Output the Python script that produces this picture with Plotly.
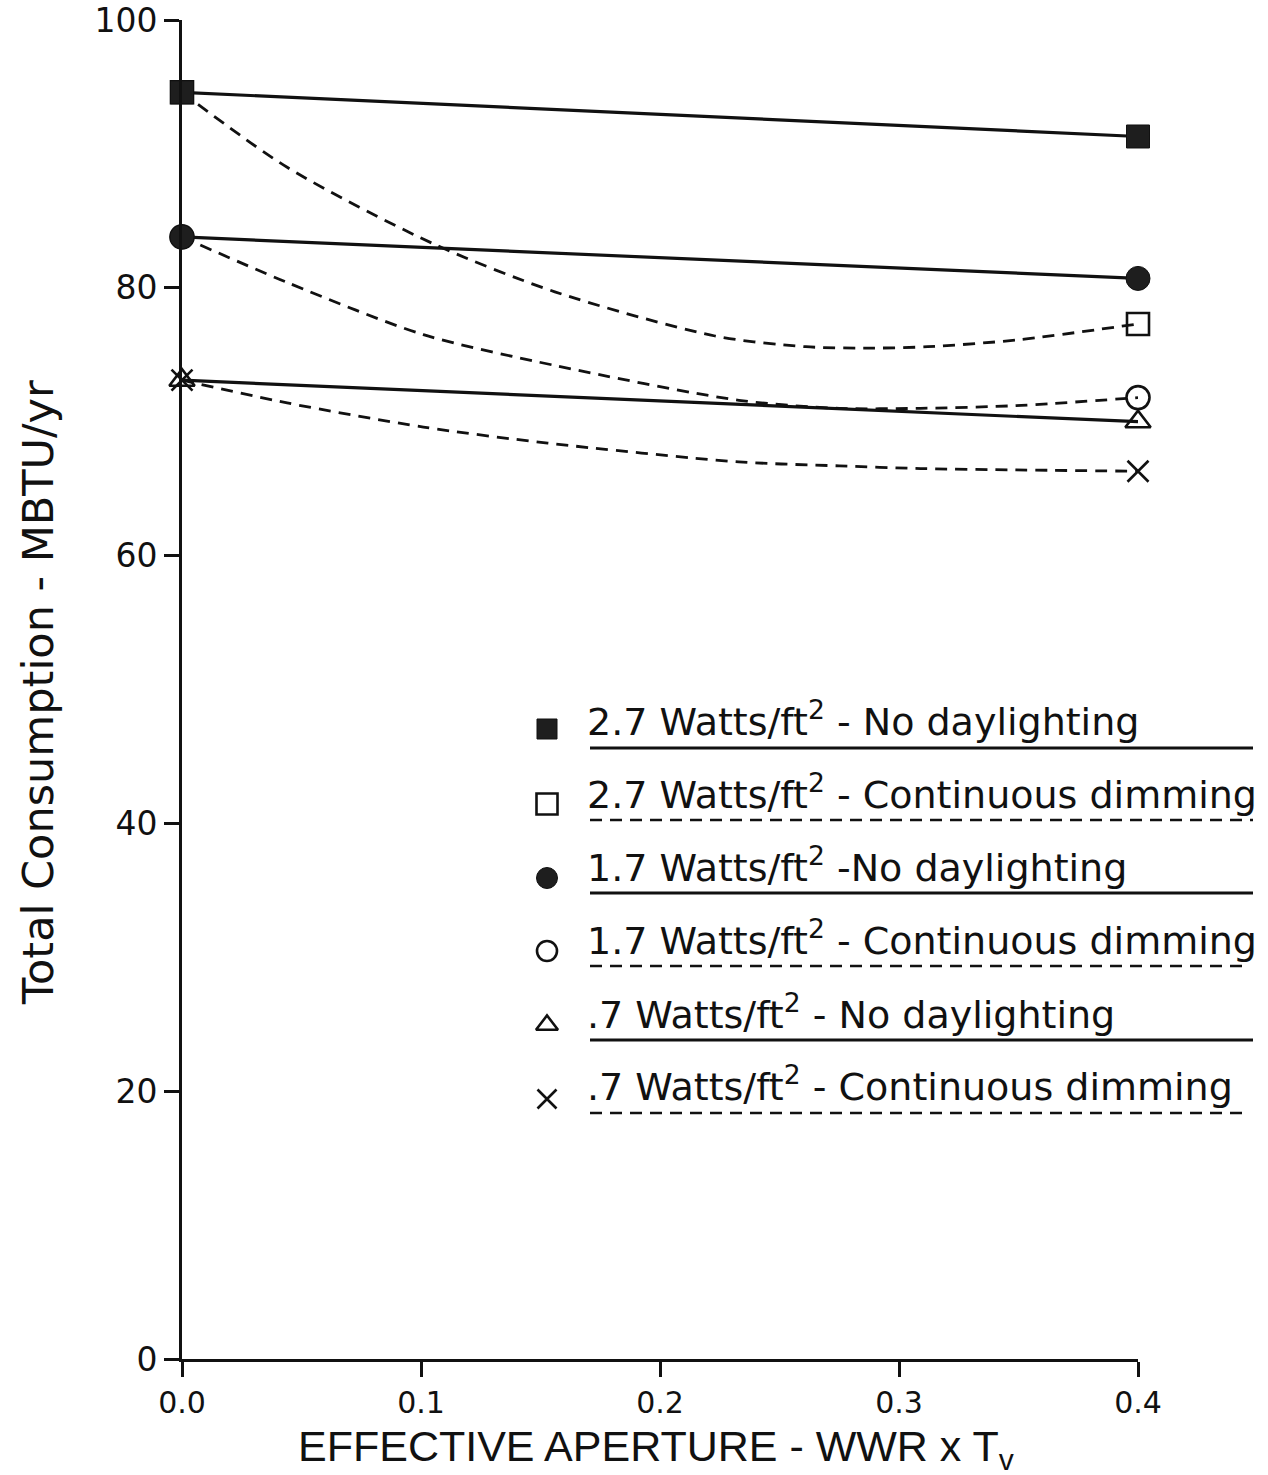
import plotly.graph_objects as go

# ---- data (MBTU/yr vs effective aperture WWR x Tv) ----
x_ends = [0.0, 0.4]

nd_27 = [94.6, 91.3]   # 2.7 W/ft2, no daylighting
nd_17 = [83.8, 80.7]   # 1.7 W/ft2, no daylighting
nd_07 = [73.1, 70.0]   # .7 W/ft2, no daylighting

# continuous dimming curves (sampled along the smooth curve)
cd_27_x = [0.0, 0.044, 0.105, 0.156, 0.223, 0.261, 0.289, 0.312, 0.349, 0.4]
cd_27_y = [94.6, 89.0, 83.3, 79.7, 76.4, 75.6, 75.5, 75.6, 76.1, 77.3]
cd_17_x = [0.0, 0.044, 0.101, 0.156, 0.233, 0.275, 0.309, 0.349, 0.4]
cd_17_y = [83.8, 80.4, 76.5, 74.2, 71.6, 71.0, 71.0, 71.2, 71.8]
cd_07_x = [0.0, 0.044, 0.101, 0.153, 0.233, 0.275, 0.309, 0.349, 0.4]
cd_07_y = [73.1, 71.4, 69.6, 68.4, 67.0, 66.7, 66.5, 66.4, 66.3]

x_ticks = [0.0, 0.1, 0.2, 0.3, 0.4]
y_ticks = [0, 20, 40, 60, 80, 100]

legend_labels = [
    "2.7 Watts/ft<sup>2</sup> - No daylighting",
    "2.7 Watts/ft<sup>2</sup> - Continuous dimming",
    "1.7 Watts/ft<sup>2</sup> -No daylighting",
    "1.7 Watts/ft<sup>2</sup> - Continuous dimming",
    ".7 Watts/ft<sup>2</sup> - No daylighting",
    ".7 Watts/ft<sup>2</sup> - Continuous dimming",
]

# ---- styling ----
INK = "#111111"
FILL = "#1e1e1e"
DASH = "12px,8px"
X_RANGE = [0.0, 0.4]
Y_RANGE = [0, 100]

# plot-area edges in page pixels
W, H = 1268, 1475
L, R, T, B = 182, 1138, 20, 1359


def paper_x(px):
    return (px - L) / (R - L)


def paper_y(py):
    return (B - py) / (B - T)


def data_x(px):
    return X_RANGE[0] + (px - L) / (R - L) * (X_RANGE[1] - X_RANGE[0])


def data_y(py):
    return Y_RANGE[0] + (B - py) / (B - T) * (Y_RANGE[1] - Y_RANGE[0])


fig = go.Figure()

# symbol styles: (symbol, size, filled)
sym_nd27 = ("square", 23, True)
sym_cd27 = ("square-open", 22, False)
sym_nd17 = ("circle", 24, True)
sym_cd17 = ("circle-open", 23, False)
sym_nd07 = ("triangle-up-open", 22, False)
sym_cd07 = ("x-thin", 21, False)


def marker_style(sym):
    symbol, size, filled = sym
    return dict(
        symbol=symbol,
        size=size,
        color=FILL if filled else INK,
        line=dict(color=INK, width=1 if filled else 2.6),
    )


# dashed dimming curves + their end markers
for xs, ys, sym in [
    (cd_27_x, cd_27_y, sym_cd27),
    (cd_17_x, cd_17_y, sym_cd17),
    (cd_07_x, cd_07_y, sym_cd07),
]:
    fig.add_trace(go.Scatter(
        x=xs, y=ys, mode="lines",
        line=dict(color=INK, width=2.8, dash=DASH, shape="spline", smoothing=0.8),
        cliponaxis=False, hoverinfo="skip",
    ))
    fig.add_trace(go.Scatter(
        x=[xs[0], xs[-1]], y=[ys[0], ys[-1]], mode="markers",
        marker=marker_style(sym), cliponaxis=False,
    ))

# solid no-daylighting lines
for ys, sym in [(nd_27, sym_nd27), (nd_17, sym_nd17), (nd_07, sym_nd07)]:
    fig.add_trace(go.Scatter(
        x=x_ends, y=ys, mode="lines+markers",
        line=dict(color=INK, width=3.2),
        marker=marker_style(sym), cliponaxis=False,
    ))

# ---- custom legend: symbol, label, and a line sample under the label ----
leg_syms = [
    ("square", 20, True),
    ("square-open", 21, False),
    ("circle", 21, True),
    ("circle-open", 20, False),
    ("triangle-up-open", 19, False),
    ("x-thin", 19, False),
]
leg_dashed = [False, True, False, True, False, True]
leg_text_y = [719, 792, 865, 938, 1012, 1084]
leg_line_y = [748, 820, 893, 966, 1040, 1113]
leg_mark_y = [729, 804, 878, 951, 1025, 1099]
leg_mark_x = 547
leg_text_x = 585
leg_line_x0 = 590
leg_line_x1 = [1253, 1253, 1253, 1248, 1253, 1250]

for i, label in enumerate(legend_labels):
    fig.add_trace(go.Scatter(
        x=[data_x(leg_mark_x)], y=[data_y(leg_mark_y[i])], mode="markers",
        marker=marker_style(leg_syms[i]), cliponaxis=False, hoverinfo="skip",
    ))
    fig.add_annotation(
        x=paper_x(leg_text_x), y=paper_y(leg_text_y[i]), xref="paper", yref="paper",
        text=label, showarrow=False, xanchor="left", yanchor="middle",
        font=dict(family="DejaVu Sans", size=38, color=INK),
    )
    fig.add_shape(
        type="line", xref="paper", yref="paper",
        x0=paper_x(leg_line_x0), x1=paper_x(leg_line_x1[i]),
        y0=paper_y(leg_line_y[i]), y1=paper_y(leg_line_y[i]),
        line=dict(color=INK, width=2.6 if leg_dashed[i] else 3,
                  dash=DASH if leg_dashed[i] else "solid"),
    )

# axis titles
fig.add_annotation(
    x=paper_x(38), y=paper_y(693), xref="paper", yref="paper",
    text="Total Consumption - MBTU/yr", textangle=-90, showarrow=False,
    xanchor="center", yanchor="middle",
    font=dict(family="DejaVu Sans", size=43, color=INK),
)
fig.add_annotation(
    x=paper_x(656), y=paper_y(1449), xref="paper", yref="paper",
    text="EFFECTIVE APERTURE - WWR x T<sub>v</sub>", showarrow=False,
    xanchor="center", yanchor="middle",
    font=dict(family="Liberation Sans", size=43, color=INK),
)

axis_common = dict(
    showline=True, linecolor=INK, linewidth=2.6,
    ticks="outside", ticklen=15, tickwidth=2.6, tickcolor=INK,
    showgrid=False, zeroline=False,
)

fig.update_xaxes(
    range=X_RANGE, tickvals=x_ticks, tickformat=".1f",
    tickfont=dict(family="DejaVu Sans", size=30, color=INK),
    ticklabelstandoff=0,
    **axis_common,
)
fig.update_yaxes(
    range=Y_RANGE, tickvals=y_ticks,
    tickfont=dict(family="DejaVu Sans", size=33, color=INK),
    **axis_common,
)

fig.update_layout(
    width=W, height=H,
    margin=dict(l=L, r=W - R, t=T, b=H - B, autoexpand=False),
    paper_bgcolor="white", plot_bgcolor="white",
    showlegend=False,
)

fig.write_html("out.html")
